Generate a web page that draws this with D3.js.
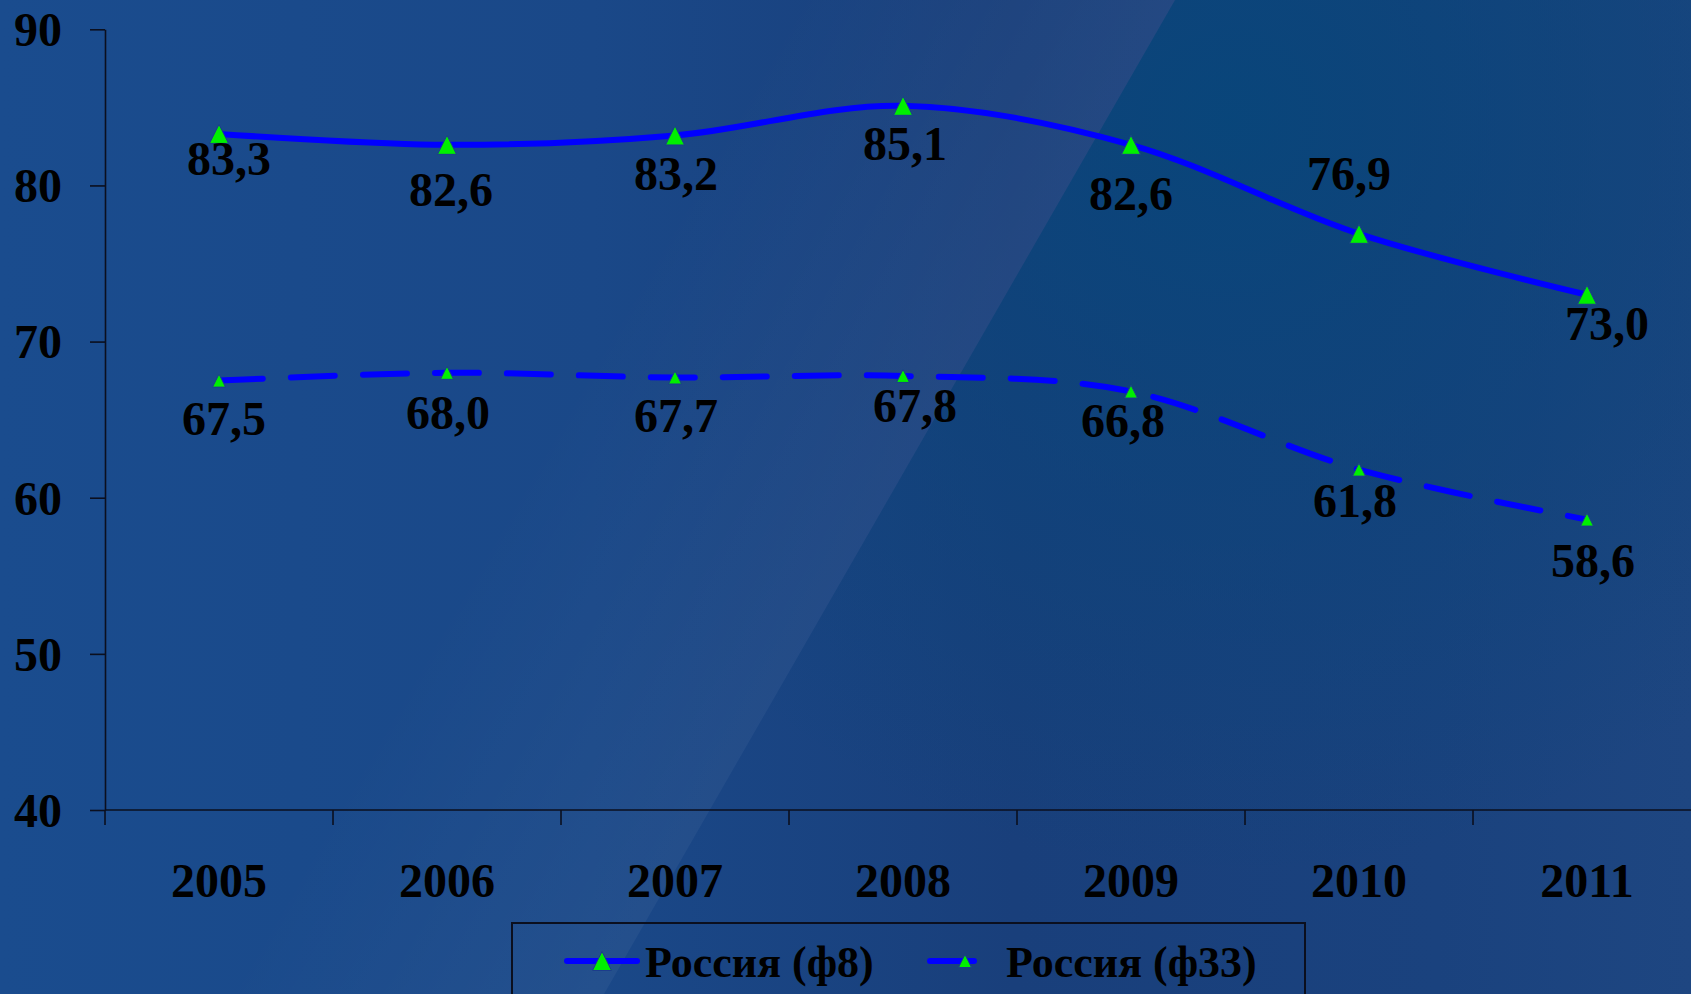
<!DOCTYPE html>
<html lang="ru">
<head>
<meta charset="utf-8">
<script src="https://cdn.jsdelivr.net/npm/d3@7"></script>
<style>
  html, body { margin: 0; padding: 0; background: #1a4888; overflow: hidden; }
  svg { display: block; }
  text { font-family: "Liberation Serif", "Times New Roman", serif; font-weight: bold; fill: #000; }
</style>
</head>
<body>
<svg id="chart" width="1691" height="994"></svg>
<script>
// ---- data ----
const years = ["2005", "2006", "2007", "2008", "2009", "2010", "2011"];
const russiaF8 = [83.3, 82.6, 83.2, 85.1, 82.6, 76.9, 73.0];
const russiaF33 = [67.5, 68.0, 67.7, 67.8, 66.8, 61.8, 58.6];
const yTicks = [40, 50, 60, 70, 80, 90];
const seriesNames = ["Россия (ф8)", "Россия (ф33)"];

// ---- layout ----
const W = 1691, H = 994;
const plot = { left: 105, right: 1701, top: 29.3, bottom: 810 };
const FONT = 48;
const LINE_BLUE = "#0000ff";
const MARKER_GREEN = "#00f000";

// hand-placed data-label nudges (label centre relative to its point)
const nudgeF8 = [[10, 25], [4, 45], [1, 39], [2, 38], [0, 49], [-10, -60], [20, 29]];
const nudgeF33 = [[5, 38], [1, 40], [1, 39], [12, 30], [-8, 29], [-4, 31], [6, 41]];

const svg = d3.select("#chart");
const defs = svg.append("defs");

// ---- background ----
const base = defs.append("linearGradient").attr("id", "bgBase")
  .attr("x1", 0).attr("y1", 0).attr("x2", 1).attr("y2", 0);
[[0, "#1a4c8e"], [0.35, "#1a4888"], [0.6, "#193f7b"], [0.85, "#1a427e"], [1, "#1e4681"]]
  .forEach(([o, c]) => base.append("stop").attr("offset", o).attr("stop-color", c));

const glow = defs.append("radialGradient").attr("id", "bgTeal")
  .attr("gradientUnits", "userSpaceOnUse")
  .attr("cx", 1230).attr("cy", 120).attr("r", 760);
glow.append("stop").attr("offset", 0).attr("stop-color", "#07467a").attr("stop-opacity", 0.9);
glow.append("stop").attr("offset", 0.55).attr("stop-color", "#0a4479").attr("stop-opacity", 0.5);
glow.append("stop").attr("offset", 1).attr("stop-color", "#0a4479").attr("stop-opacity", 0);

const sheen = defs.append("linearGradient").attr("id", "bgSheen")
  .attr("gradientUnits", "userSpaceOnUse")
  .attr("x1", 890).attr("y1", 497).attr("x2", 600).attr("y2", 330);
sheen.append("stop").attr("offset", 0).attr("stop-color", "#ffffff").attr("stop-opacity", 0.045);
sheen.append("stop").attr("offset", 1).attr("stop-color", "#ffffff").attr("stop-opacity", 0);

svg.append("rect").attr("width", W).attr("height", H).attr("fill", "url(#bgBase)");
svg.append("path").attr("d", `M1175,0 L${W},0 L${W},${H} L604,${H} Z`).attr("fill", "url(#bgTeal)");
svg.append("path").attr("d", `M1175,0 L0,0 L0,${H} L604,${H} Z`).attr("fill", "url(#bgSheen)");

// ---- scales ----
const x = d3.scaleBand().domain(years).range([plot.left, plot.right]).padding(0);
const y = d3.scaleLinear().domain([40, 90]).range([plot.bottom, plot.top]);
const cx = d => x(d) + x.bandwidth() / 2;

const fmt = d3.formatLocale({ decimal: ",", thousands: " ", grouping: [3], currency: ["", ""] }).format(".1f");

// ---- axes ----
const yAxis = svg.append("g").attr("transform", `translate(${plot.left},0)`)
  .call(d3.axisLeft(y).tickValues(yTicks).tickSize(15).tickSizeOuter(0).tickPadding(28).tickFormat(d3.format("d")));
yAxis.selectAll("path, line").attr("stroke", "#0b0f1e").attr("stroke-width", 1.6);
yAxis.selectAll("text").attr("font-size", FONT).attr("dy", "0.34em")
  .style("font-family", "'Liberation Serif', serif").style("font-weight", "bold").attr("fill", "#000");

const xAxis = svg.append("g").attr("transform", `translate(0,${plot.bottom})`)
  .call(d3.axisBottom(x).tickSize(0).tickSizeOuter(0));
xAxis.select(".domain").remove();
xAxis.selectAll("text").attr("font-size", FONT).attr("y", 87).attr("dy", null)
  .style("font-family", "'Liberation Serif', serif").style("font-weight", "bold").attr("fill", "#000");

svg.append("line").attr("x1", plot.left).attr("x2", W).attr("y1", plot.bottom).attr("y2", plot.bottom)
  .attr("stroke", "#0b0f1e").attr("stroke-width", 1.6);
const bounds = years.map(d => x(d)).concat([x(years[years.length - 1]) + x.step()]);
svg.append("g").selectAll("line").data(bounds).join("line")
  .attr("x1", d => d).attr("x2", d => d)
  .attr("y1", plot.bottom).attr("y2", plot.bottom + 15)
  .attr("stroke", "#0b0f1e").attr("stroke-width", 1.6);

// ---- series ----
const tri = w => `M0,${-w / 2}L${w / 2},${w / 2}L${-w / 2},${w / 2}Z`;
const line = d3.line().x(d => cx(d.year)).y(d => y(d.value)).curve(d3.curveCardinal.tension(0));

const series = [
  { name: seriesNames[0], values: russiaF8, dash: null, marker: 19, nudge: nudgeF8 },
  { name: seriesNames[1], values: russiaF33, dash: "44,28", marker: 13, nudge: nudgeF33 }
];

series.forEach(s => {
  const pts = years.map((yr, i) => ({ year: yr, value: s.values[i], nudge: s.nudge[i] }));
  const g = svg.append("g");
  g.append("path").datum(pts).attr("d", line)
    .attr("fill", "none").attr("stroke", LINE_BLUE).attr("stroke-width", 6)
    .attr("stroke-linecap", "round").attr("stroke-dasharray", s.dash);
  g.selectAll("path.m").data(pts).join("path").attr("class", "m")
    .attr("d", tri(s.marker))
    .attr("transform", d => `translate(${cx(d.year)},${y(d.value)})`)
    .attr("fill", MARKER_GREEN).attr("stroke", "#1c3c8c").attr("stroke-width", 1);
  g.selectAll("text").data(pts).join("text")
    .attr("x", d => cx(d.year) + d.nudge[0])
    .attr("y", d => y(d.value) + d.nudge[1] + 16)
    .attr("text-anchor", "middle").attr("font-size", FONT)
    .text(d => fmt(d.value));
});

// ---- legend ----
const legend = svg.append("g");
legend.append("rect").attr("x", 512).attr("y", 923).attr("width", 793).attr("height", 100)
  .attr("fill", "none").attr("stroke", "#0b0f1e").attr("stroke-width", 2);
const legendItems = [
  { x0: 567, tx: 645, s: series[0] },
  { x0: 930, tx: 1006, s: series[1] }
];
legendItems.forEach(it => {
  legend.append("line").attr("x1", it.x0).attr("x2", it.x0 + 70).attr("y1", 961).attr("y2", 961)
    .attr("stroke", LINE_BLUE).attr("stroke-width", 6).attr("stroke-linecap", "round")
    .attr("stroke-dasharray", it.s.dash);
  legend.append("path").attr("d", tri(it.s.marker))
    .attr("transform", `translate(${it.x0 + 35},961)`)
    .attr("fill", MARKER_GREEN).attr("stroke", "#1c3c8c").attr("stroke-width", 1);
  legend.append("text").attr("x", it.tx).attr("y", 977).attr("font-size", 44)
    .text(it.s.name);
});
</script>
</body>
</html>
